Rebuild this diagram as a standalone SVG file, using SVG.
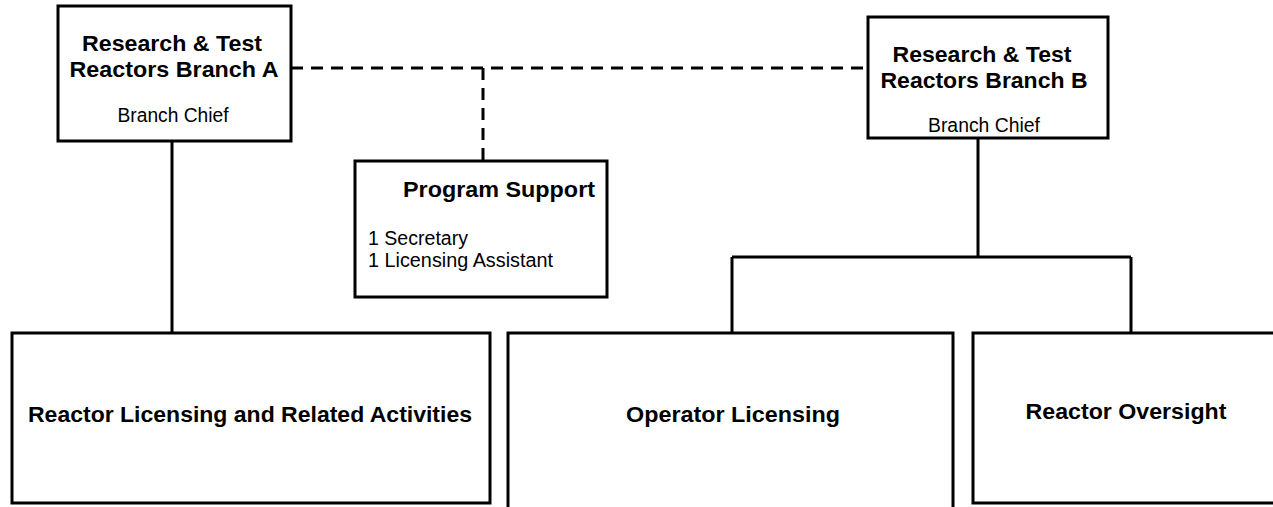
<svg xmlns="http://www.w3.org/2000/svg" width="1273" height="507" viewBox="0 0 1273 507">
<style>
.box{fill:#fff;stroke:#000;stroke-width:3}
.ln{fill:none;stroke:#000;stroke-width:3}
.dash{fill:none;stroke:#000;stroke-width:3;stroke-dasharray:12,8}
text{font-family:"Liberation Sans",Arial,sans-serif;fill:#000}
.b{font-weight:bold;font-size:22px}
.r{font-size:20px}
</style>
<rect width="1273" height="507" fill="#fff"/>
<g id="connectors">
<path class="dash" d="M291 68H868"/>
<path class="dash" d="M483 68V168"/>
<path class="ln" d="M172 141V333"/>
<path class="ln" d="M978 138V257M732 257H1131M732 257V333M1131 257V333"/>
</g>
<g id="branchA">
<rect class="box" x="58" y="6" width="233" height="135"/>
<text class="b" x="172" y="51" text-anchor="middle" textLength="180" lengthAdjust="spacingAndGlyphs">Research &amp; Test</text>
<text class="b" x="174" y="77" text-anchor="middle" textLength="209" lengthAdjust="spacingAndGlyphs">Reactors Branch A</text>
<text class="r" x="173" y="122" text-anchor="middle" textLength="111" lengthAdjust="spacingAndGlyphs">Branch Chief</text>
</g>
<g id="branchB">
<rect class="box" x="868" y="17" width="240" height="121"/>
<text class="b" x="982" y="62" text-anchor="middle" textLength="179" lengthAdjust="spacingAndGlyphs">Research &amp; Test</text>
<text class="b" x="984" y="88" text-anchor="middle" textLength="207" lengthAdjust="spacingAndGlyphs">Reactors Branch B</text>
<text class="r" x="984" y="132" text-anchor="middle" textLength="112" lengthAdjust="spacingAndGlyphs">Branch Chief</text>
</g>
<g id="programSupport">
<rect class="box" x="355" y="161" width="252" height="136"/>
<text class="b" x="499" y="197" text-anchor="middle" textLength="192" lengthAdjust="spacingAndGlyphs">Program Support</text>
<text class="r" x="368" y="245" textLength="100" lengthAdjust="spacingAndGlyphs">1 Secretary</text>
<text class="r" x="368" y="267" textLength="185" lengthAdjust="spacingAndGlyphs">1 Licensing Assistant</text>
</g>
<g id="reactorLicensing">
<rect class="box" x="12" y="333" width="478" height="170"/>
<text class="b" x="250" y="422" text-anchor="middle" textLength="444" lengthAdjust="spacingAndGlyphs">Reactor Licensing and Related Activities</text>
</g>
<g id="operatorLicensing">
<rect class="box" x="508" y="333" width="445" height="190"/>
<text class="b" x="733" y="422" text-anchor="middle" textLength="214" lengthAdjust="spacingAndGlyphs">Operator Licensing</text>
</g>
<g id="reactorOversight">
<rect class="box" x="973" y="333" width="310" height="170"/>
<text class="b" x="1126" y="419" text-anchor="middle" textLength="201" lengthAdjust="spacingAndGlyphs">Reactor Oversight</text>
</g>
</svg>
